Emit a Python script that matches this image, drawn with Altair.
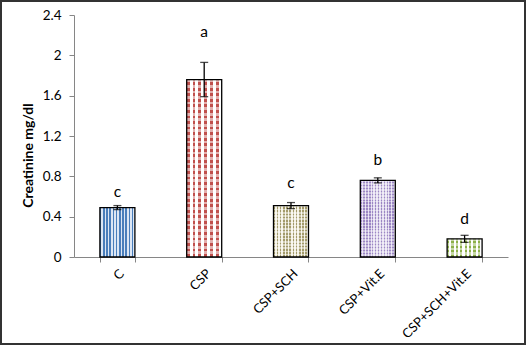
import altair as alt
import pandas as pd

groups = ["C", "CSP", "CSP+SCH", "CSP+Vit.E", "CSP+SCH+Vit.E"]
means = [0.49, 1.76, 0.51, 0.76, 0.18]
errors = [0.02, 0.17, 0.03, 0.025, 0.035]
letters = ["c", "a", "c", "b", "d"]
letter_y = [0.64, 2.23, 0.73, 0.96, 0.38]

df = pd.DataFrame({
    "group": groups,
    "mean": means,
    "lo": [m - e for m, e in zip(means, errors)],
    "hi": [m + e for m, e in zip(means, errors)],
    "letter": letters,
    "ly": letter_y,
})

W, H = 434, 242
YMAX = 2.4
FONT = "Lato"

# pattern styles (colour, background, period px, overlay strength)
styles = {
    "C": ("#4a7ebb", "#dce6f4", 3.2, 0.0),
    "CSP": ("#c0504d", "#ffffff", 5.5, 0.55),
    "CSP+SCH": ("#a39b6b", "#f4f1e4", 3.2, 0.5),
    "CSP+Vit.E": ("#9c87c4", "#e4def0", 3.0, 0.45),
    "CSP+SCH+Vit.E": ("#8db04a", "#ffffff", 4.5, 0.5),
}
BAR_W = 35


def stripes(c1, c2, n, vertical_bands=True):
    stops = []
    for i in range(n):
        a = i / n
        m = (i + 0.5) / n
        b = (i + 1) / n
        stops += [
            {"offset": a, "color": c1},
            {"offset": m, "color": c1},
            {"offset": m, "color": c2},
            {"offset": b, "color": c2},
        ]
    if vertical_bands:
        return {"gradient": "linear", "x1": 0, "x2": 1, "y1": 0, "y2": 0, "stops": stops}
    return {"gradient": "linear", "x1": 0, "x2": 0, "y1": 0, "y2": 1, "stops": stops}


xenc = alt.X(
    "group:N",
    sort=groups,
    title=None,
    scale=alt.Scale(paddingInner=0.6, paddingOuter=0.3),
    axis=alt.Axis(
        labelAngle=-45,
        labelFontSize=13,
        labelFont=FONT,
        labelColor="#000000",
        labelPadding=5,
        tickBand="extent",
        tickSize=5,
        tickColor="#868686",
        domainColor="#868686",
        labelLimit=200,
    ),
)
yscale = alt.Scale(domain=[0, YMAX])
yenc = alt.Y(
    "mean:Q",
    scale=yscale,
    title="Creatinine mg/dl",
    axis=alt.Axis(
        values=[0, 0.4, 0.8, 1.2, 1.6, 2.0, 2.4],
        format=".1~f",
        grid=False,
        labelFontSize=13.5,
        labelFont=FONT,
        labelColor="#000000",
        labelPadding=8,
        tickSize=5,
        tickColor="#868686",
        domainColor="#868686",
        titleFont=FONT,
        titleFontSize=14,
        titleFontWeight="bold",
        titleColor="#000000",
        titleX=-45.5,
        titleY=140,
        titleAngle=-90,
        titleAlign="center",
        titleBaseline="middle",
    ),
)

base = alt.Chart(df)
layers = []
for g, m in zip(groups, means):
    c1, c2, period, ov = styles[g]
    nx = max(1, round(BAR_W / period))
    hpx = m / YMAX * H
    ny = max(1, round(hpx / period))
    sub = base.transform_filter(alt.datum.group == g)
    layers.append(sub.mark_bar(fill=stripes(c1, c2, nx, True), width=BAR_W).encode(x=xenc, y=yenc))
    if ov > 0:
        layers.append(
            sub.mark_bar(
                fill=stripes(f"rgba(255,255,255,{ov})", "rgba(255,255,255,0)", ny, False),
                width=BAR_W,
            ).encode(x=xenc, y=yenc)
        )
    layers.append(
        sub.mark_bar(fillOpacity=0, stroke="#000000", strokeWidth=1.3, width=BAR_W).encode(x=xenc, y=yenc)
    )

err_rule = base.mark_rule(color="#000000", strokeWidth=1.3).encode(
    x=alt.X("group:N", sort=groups), y=alt.Y("lo:Q", scale=yscale), y2="hi:Q"
)
cap_lo = base.mark_tick(color="#000000", thickness=1.3, size=8, orient="horizontal").encode(
    x=alt.X("group:N", sort=groups), y=alt.Y("lo:Q", scale=yscale)
)
cap_hi = base.mark_tick(color="#000000", thickness=1.3, size=8, orient="horizontal").encode(
    x=alt.X("group:N", sort=groups), y=alt.Y("hi:Q", scale=yscale)
)
labels = base.mark_text(font=FONT, fontSize=15.5, color="#000000", baseline="middle").encode(
    x=alt.X("group:N", sort=groups), y=alt.Y("ly:Q", scale=yscale), text="letter:N"
)
border = base.mark_rect(fillOpacity=0, stroke="#333333", strokeWidth=2).encode(
    x=alt.value(-73), x2=alt.value(451), y=alt.value(-14), y2=alt.value(329)
)

chart = (
    alt.layer(*layers, err_rule, cap_lo, cap_hi, labels, border)
    .properties(
        width=W,
        height=H,
        autosize=alt.AutoSizeParams(type="none"),
        padding={"left": 74, "top": 15, "right": 18, "bottom": 88},
        background="#ffffff",
    )
    .configure_view(stroke=None)
)

chart.save("out.html", embed_options={"renderer": "svg", "actions": False})
